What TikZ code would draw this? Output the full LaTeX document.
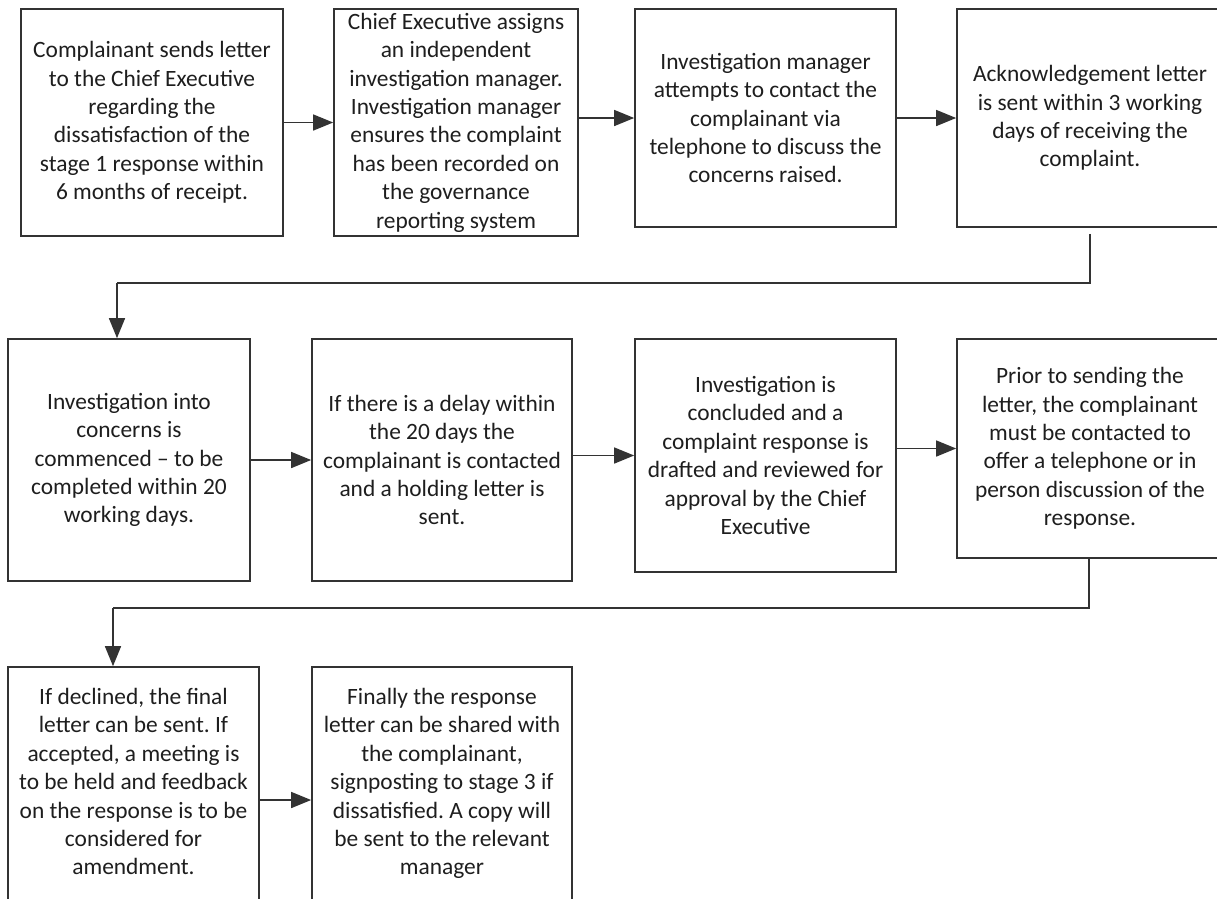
\documentclass[tikz,border=0pt]{standalone}
\usepackage{fontspec}
\setmainfont{Carlito}
\frenchspacing
\usetikzlibrary{arrows.meta}
\definecolor{edge}{HTML}{333333}
\definecolor{ink}{HTML}{1E1E1E}
\tikzset{
  stepbox/.style={draw=edge, line width=1.7pt, rectangle, inner sep=0pt, align=center,
    text=ink, font=\fontsize{23.4}{28.4}\selectfont},
  flow/.style={draw=edge, line width=1.5pt, -{Triangle[length=20pt,width=16pt]}},
  link/.style={draw=edge, line width=1.5pt}
}
\begin{document}
\begin{tikzpicture}[x=1pt, y=-1pt]
\useasboundingbox (0,0) rectangle (1217,898);
\clip (0,0) rectangle (1217,898);
\fill[white] (0,0) rectangle (1217,898);

% row 1
\node[stepbox, minimum width=262pt, minimum height=227pt] (b1) at (152,122.5)
  {Complainant sends letter\\to the Chief Executive\\regarding the\\dissatisfaction of the\\stage 1 response within\\6 months of receipt.};
\node[stepbox, minimum width=244pt, minimum height=227pt] (b2) at (456,122.5)
  {Chief Executive assigns\\an independent\\investigation manager.\\Investigation manager\\ensures the complaint\\has been recorded on\\the governance\\reporting system};
\node[stepbox, minimum width=261pt, minimum height=218pt] (b3) at (765.5,118)
  {Investigation manager\\attempts to contact the\\complainant via\\telephone to discuss the\\concerns raised.};
\node[stepbox, minimum width=266pt, minimum height=218pt] (b4) at (1090,118)
  {Acknowledgement letter\\is sent within 3 working\\days of receiving the\\complaint.};

% row 2
\node[stepbox, minimum width=242pt, minimum height=242pt] (b5) at (129,460)
  {Investigation into\\concerns is\\commenced – to be\\completed within 20\\working days.};
\node[stepbox, minimum width=260pt, minimum height=242pt] (b6) at (442,460)
  {If there is a delay within\\the 20 days the\\complainant is contacted\\and a holding letter is\\sent.};
\node[stepbox, minimum width=261pt, minimum height=233pt] (b7) at (765.5,455.5)
  {Investigation is\\concluded and a\\complaint response is\\drafted and reviewed for\\approval by the Chief\\Executive};
\node[stepbox, minimum width=266pt, minimum height=219pt] (b8) at (1090,448.5)
  {Prior to sending the\\letter, the complainant\\must be contacted to\\offer a telephone or in\\person discussion of the\\response.};

% row 3
\node[stepbox, minimum width=251pt, minimum height=266pt] (b9) at (133.5,800)
  {If declined, the final\\letter can be sent. If\\accepted, a meeting is\\to be held and feedback\\on the response is to be\\considered for\\amendment.\\\strut};
\node[stepbox, minimum width=260pt, minimum height=266pt] (b10) at (442,800)
  {Finally the response\\letter can be shared with\\the complainant,\\signposting to stage 3 if\\dissatisfied. A copy will\\be sent to the relevant\\manager\\\strut};

% horizontal arrows
\draw[flow] (b1.east) -- (b2.west);
\draw[flow] (b2.east |- b3.west) -- (b3.west);
\draw[flow] (b3.east) -- (b4.west);
\draw[flow] (b5.east) -- (b6.west);
\draw[flow] (b6.east |- b7.west) -- (b7.west);
\draw[flow] (b7.east |- b8.west) -- (b8.west);
\draw[flow] (b9.east) -- (b10.west);

% row-wrap connectors
\coordinate (t1) at (1090,283);
\coordinate (t2) at (117,283);
\coordinate (u1) at (1089,608);
\coordinate (u2) at (113,608);
\draw[link, shorten <=6pt] (t1 |- b4.south) -- (t1) -- (t2);
\draw[flow] (t2) -- (t2 |- b5.north);
\draw[link] (u1 |- b8.south) -- (u1) -- (u2);
\draw[flow] (u2) -- (u2 |- b9.north);
\end{tikzpicture}
\end{document}
